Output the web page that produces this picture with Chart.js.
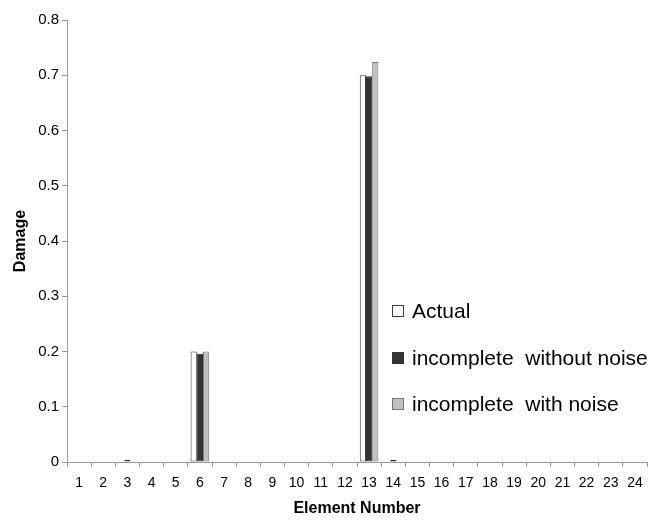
<!DOCTYPE html>
<html>
<head>
<meta charset="utf-8">
<script src="https://cdn.jsdelivr.net/npm/chart.js@4.4.0/dist/chart.umd.min.js"></script>
<style>
  body { margin: 0; background: #fff; }
  #wrap { position: relative; width: 657px; height: 520px; }
  #legend { position: absolute; left: 392px; top: 288px; font-family: "Liberation Sans", Arial, sans-serif; font-size: 21px; color: #000; }
  .item { display: flex; align-items: center; height: 46.5px; white-space: pre; }
  .box { width: 12px; height: 12px; margin-right: 8px; box-sizing: border-box; }
</style>
</head>
<body>
<div id="wrap">
  <canvas id="chart" width="657" height="520"></canvas>
  <div id="legend"></div>
</div>
<script>
// Element numbers on the x axis
const elements = ["1","2","3","4","5","6","7","8","9","10","11","12","13","14","15","16","17","18","19","20","21","22","23","24"];

// Damage per element
const actual = [0,0,0,0,0,0.2,0,0,0,0,0,0,0.7,0,0,0,0,0,0,0,0,0,0,0];
const withoutNoise = [0,0,0.004,0,0,0.196,0,0,0,0,0,0,0.698,0.004,0,0,0,0,0,0,0,0,0,0];
const withNoise = [0,0,0,0,0,0.2,0,0,0,0,0,0,0.724,0,0,0,0,0,0,0,0,0,0,0];

const seriesNames = ["Actual", "incomplete  without noise", "incomplete  with noise"];
const fills = ["#ffffff", "#333333", "#c0c0c0"];
const borders = ["#404040", "#333333", "#777777"];

const family = "'Liberation Sans', Arial, sans-serif";

const chart = new Chart(document.getElementById("chart"), {
  type: "bar",
  data: {
    labels: elements,
    datasets: [actual, withoutNoise, withNoise].map((values, i) => ({
      label: seriesNames[i],
      data: values,
      backgroundColor: fills[i],
      borderColor: borders[i],
      borderWidth: 1,
      borderSkipped: false,
      barPercentage: 1,
      categoryPercentage: 0.77,
    })),
  },
  options: {
    responsive: false,
    animation: false,
    layout: { padding: { top: 20, right: 10, left: 0, bottom: 0 } },
    plugins: {
      legend: { display: false },
      tooltip: { enabled: false },
    },
    scales: {
      x: {
        grid: { drawOnChartArea: false, color: "#999", tickLength: 5, offset: true },
        border: { color: "#999" },
        ticks: { color: "#000", font: { family, size: 14 }, padding: 8, maxRotation: 0, autoSkip: false },
        title: { display: true, text: "Element Number", color: "#000", font: { family, size: 16, weight: "bold" }, padding: { top: 2, bottom: 2 } },
        afterFit: (scale) => { scale.height = 58; },
      },
      y: {
        min: 0,
        max: 0.8,
        ticks: { stepSize: 0.1, color: "#000", font: { family, size: 15 }, padding: 3 },
        grid: { drawOnChartArea: false, color: "#999", tickLength: 5 },
        border: { color: "#999" },
        title: { display: true, text: "Damage", color: "#000", font: { family, size: 16, weight: "bold" }, padding: { top: 11, bottom: 0 } },
        afterFit: (scale) => { scale.width = 67; },
      },
    },
  },
});

// Legend placed inside the plot like the original
const legend = document.getElementById("legend");
chart.data.datasets.forEach((ds) => {
  const item = document.createElement("div");
  item.className = "item";
  item.innerHTML = `<span class="box" style="background:${ds.backgroundColor};border:1px solid ${ds.borderColor}"></span><span>${ds.label}</span>`;
  legend.appendChild(item);
});
</script>
</body>
</html>
